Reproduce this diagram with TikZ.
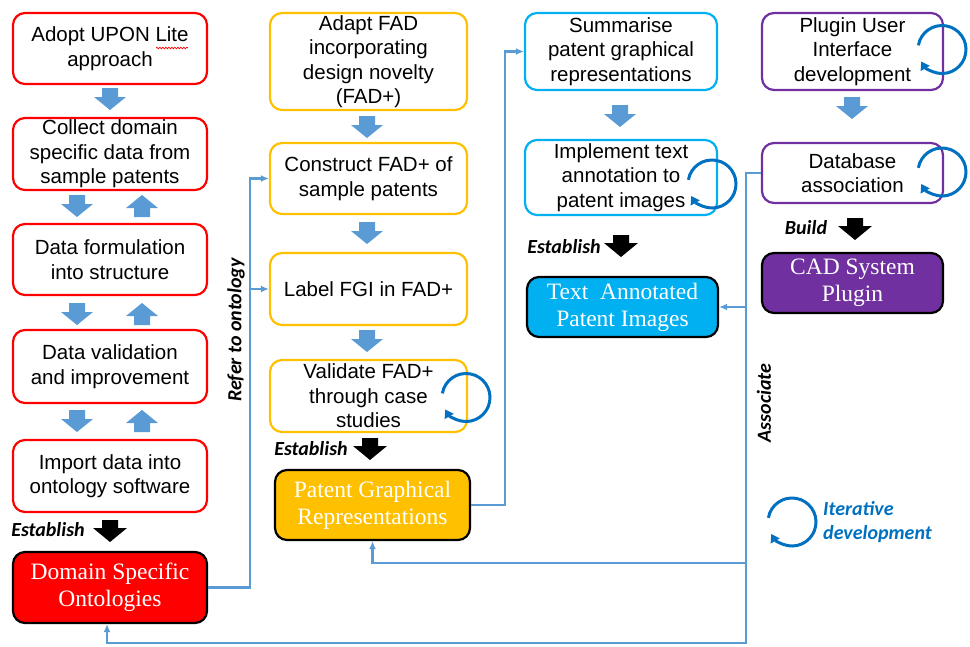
\documentclass[tikz,border=0pt]{standalone}
\usepackage{fontspec}
\setmainfont{Liberation Sans}
\newfontfamily\serifbox{Liberation Serif}
\newfontfamily\calib{Carlito}
\usetikzlibrary{arrows.meta,decorations.pathmorphing}
\definecolor{cred}{HTML}{FF0000}
\definecolor{corange}{HTML}{FFC000}
\definecolor{ccyan}{HTML}{00B0F0}
\definecolor{cpurple}{HTML}{7030A0}
\definecolor{cycblue}{HTML}{0070C0}
\definecolor{linkblue}{HTML}{5B9BD5}
\begin{document}
\begin{tikzpicture}[x=1pt,y=-1pt,
  box/.style={draw, line width=2.2pt, rounded corners=12pt, fill=white, align=center,
    inner sep=0pt, font=\fontsize{20.5}{24.5}\selectfont, text=black},
  redbox/.style={box, draw=cred, minimum width=194pt},
  orbox/.style={box, draw=corange, minimum width=197pt},
  cybox/.style={box, draw=ccyan, minimum width=192pt},
  pubox/.style={box, draw=cpurple, minimum width=181pt},
  result/.style={draw=black, line width=2.2pt, rounded corners=12pt, align=center,
    inner sep=0pt, text=white, font=\serifbox\fontsize{23.5}{27}\selectfont},
  lab/.style={font=\calib\bfseries\itshape\fontsize{20}{23.5}\selectfont, inner sep=0pt, text=black},
  link/.style={draw=linkblue, line width=2.2pt, -{Latex[length=8pt,width=7pt]}},
  cyc/.style={draw=cycblue, line width=3pt, -{Triangle[length=8pt,width=10pt]}},
  bdown/.pic={\fill[linkblue] (-8,0) -- (8,0) -- (8,9) -- (16,9) -- (0,22) -- (-16,9) -- (-8,9) -- cycle;},
  bup/.pic={\fill[linkblue] (-8,22) -- (8,22) -- (8,13) -- (16,13) -- (0,0) -- (-16,13) -- (-8,13) -- cycle;},
  kdown/.pic={\fill[black] (-8,0) -- (8,0) -- (8,8) -- (17,8) -- (0,22) -- (-17,8) -- (-8,8) -- cycle;}
]
\useasboundingbox (0,0) rectangle (970,646);

% column 1
\node[redbox, minimum height=71pt] (upon) at (110,48.5) {Adopt UPON Lite\\approach};
\node[redbox, minimum height=72pt] (collect) at (110,154) {Collect domain\\specific data from\\sample patents};
\node[redbox, minimum height=71pt] (form) at (110,259.5) {Data formulation\\into structure};
\node[redbox, minimum height=73pt] (valid) at (110,366.5) {Data validation\\and improvement};
\node[redbox, minimum height=72pt] (import) at (110,476) {Import data into\\ontology software};
\node[result, fill=cred, minimum width=194pt, minimum height=71pt] (dso) at (110,587.5) {Domain Specific\\Ontologies};
\draw[cred, line width=0.7pt, decorate, decoration={snake, amplitude=0.8pt, segment length=3pt}] (156,48) -- (188,48);

% column 2
\node[orbox, minimum height=97pt] (adapt) at (368.5,61.5) {Adapt FAD\\incorporating\\design novelty\\(FAD+)};
\node[orbox, minimum height=71pt] (cst) at (368.5,178.5) {Construct FAD+ of\\sample patents};
\node[orbox, minimum height=72pt] (lbl) at (368.5,289) {Label FGI in FAD+};
\node[orbox, minimum height=72pt] (vfad) at (368.5,396) {Validate FAD+\\through case\\studies};
\node[result, fill=corange, minimum width=195pt, minimum height=70pt] (pgr) at (372.5,505) {Patent Graphical\\Representations};

% column 3
\node[cybox, minimum height=77pt] (summ) at (621,51.5) {Summarise\\patent graphical\\representations};
\node[cybox, minimum height=75pt] (impl) at (621,177.5) {Implement text\\annotation to\\patent images};
\node[result, fill=ccyan, minimum width=191pt, minimum height=60pt] (tapi) at (622.5,307) {Text\enspace Annotated\\Patent Images};

% column 4
\node[pubox, minimum height=77pt] (plug) at (852.5,51.5) {Plugin User\\Interface\\development};
\node[pubox, minimum height=60pt] (db) at (852.5,173) {Database\\association};
\node[result, fill=cpurple, minimum width=181pt, minimum height=60pt] (cad) at (852.5,283) {CAD System\\Plugin};

% labels
\node[lab] (est1) at (48,530) {Establish};
\node[lab] (est2) at (311,449) {Establish};
\node[lab] (est3) at (564,247) {Establish};
\node[lab] (build) at (806,228) {Build};
\node[lab, rotate=90] (refer) at (236,330) {Refer to ontology};
\node[lab, rotate=90] (assoc) at (764,403) {Associate};
\node[lab, text=cycblue, align=left, anchor=west] (iter) at (823,522) {Iterative\\development};

% block arrows
\pic at (110,88) {bdown};
\pic at (77,195) {bdown};  \pic at (142,195) {bup};
\pic at (77,303) {bdown};  \pic at (142,303) {bup};
\pic at (77,410) {bdown};  \pic at (142,410) {bup};
\pic at (367,116) {bdown};
\pic at (367,222) {bdown};
\pic at (367,330) {bdown};
\pic at (620,105) {bdown};
\pic at (852,97) {bdown};
\pic at (110,520) {kdown};
\pic at (370,438) {kdown};
\pic at (621,235) {kdown};
\pic at (855,218) {kdown};

% cycles
\foreach \cx/\cy in {466/397.5, 712/184, 942/49.5, 942/172, 792/522}
  \draw[cyc] (\cx,\cy) ++(-170:24) arc[start angle=-170, end angle=150, radius=24];

% connectors
\coordinate (rv) at (250,178.5);
\draw[link] (dso.east) -| (rv) -- (cst.west);
\draw[link] (lbl.west -| rv) -- (lbl.west);
\coordinate (sv) at (505,51.5);
\draw[link] (pgr.east) -| (sv) -- (summ.west);
\coordinate (av) at (746,643);
\draw[link] (db.west) -| (av) -| ([xshift=-3pt]dso.south);
\draw[link] (tapi.east -| av) -- (tapi.east);
\coordinate (ah) at (746,563);
\draw[link] (ah) -| (pgr.south);
\end{tikzpicture}
\end{document}
